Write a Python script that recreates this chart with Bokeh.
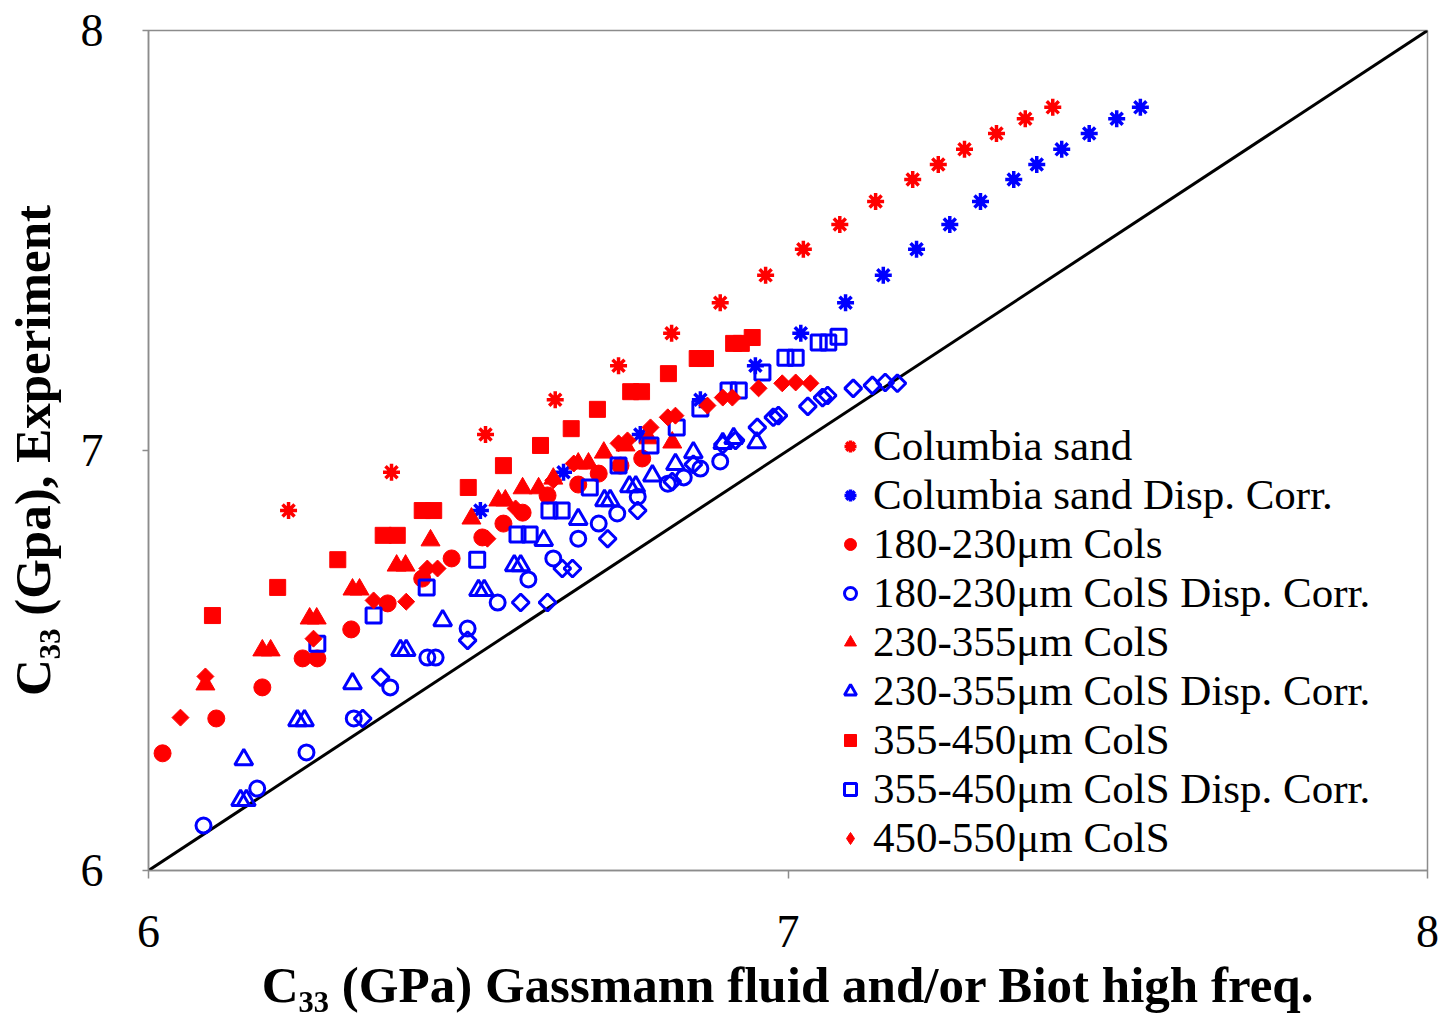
from bokeh.plotting import figure
from bokeh.models import Legend, LegendItem, Range1d, FixedTicker
from bokeh.embed import file_html
from bokeh.resources import INLINE
import math

# ---------------- data (GPa) ----------------
cs_x = [6.219, 6.380, 6.527, 6.636, 6.735, 6.818, 6.894, 6.965, 7.024, 7.081, 7.137, 7.195, 7.235, 7.276, 7.326, 7.371, 7.414]
cs_y = [6.857, 6.948, 7.038, 7.121, 7.202, 7.279, 7.352, 7.417, 7.479, 7.538, 7.593, 7.645, 7.681, 7.717, 7.755, 7.790, 7.817]
csd_x = [6.519, 6.649, 6.769, 6.863, 6.949, 7.020, 7.090, 7.149, 7.201, 7.253, 7.301, 7.353, 7.389, 7.428, 7.471, 7.514, 7.551]
csd_y = [6.857, 6.948, 7.038, 7.121, 7.202, 7.279, 7.352, 7.417, 7.479, 7.538, 7.593, 7.645, 7.681, 7.717, 7.755, 7.790, 7.817]

c180_x = [6.022, 6.106, 6.178, 6.241, 6.264, 6.317, 6.374, 6.428, 6.474, 6.522, 6.555, 6.585, 6.624, 6.672, 6.704, 6.738, 6.772]
c180_y = [6.279, 6.362, 6.436, 6.505, 6.505, 6.574, 6.636, 6.695, 6.743, 6.793, 6.826, 6.852, 6.893, 6.919, 6.945, 6.964, 6.981]
c180d_x = [6.086, 6.170, 6.247, 6.321, 6.378, 6.436, 6.449, 6.499, 6.546, 6.594, 6.633, 6.672, 6.704, 6.733, 6.765, 6.812, 6.837, 6.863, 6.894]
c180d_y = [6.107, 6.195, 6.281, 6.362, 6.436, 6.507, 6.507, 6.576, 6.638, 6.693, 6.743, 6.790, 6.826, 6.850, 6.890, 6.921, 6.936, 6.957, 6.974]

c230_x = [6.089, 6.178, 6.191, 6.252, 6.263, 6.319, 6.330, 6.388, 6.402, 6.441, 6.505, 6.547, 6.558, 6.585, 6.610, 6.633, 6.672, 6.688, 6.712, 6.746, 6.782, 6.819]
c230_y = [6.443, 6.524, 6.524, 6.600, 6.600, 6.669, 6.669, 6.726, 6.726, 6.786, 6.838, 6.881, 6.881, 6.910, 6.910, 6.933, 6.969, 6.969, 6.995, 7.012, 7.029, 7.019]
c230d_x = [6.149, 6.144, 6.153, 6.233, 6.244, 6.319, 6.394, 6.403, 6.460, 6.516, 6.525, 6.572, 6.582, 6.618, 6.672, 6.713, 6.722, 6.752, 6.762, 6.788, 6.824, 6.852, 6.898, 6.915, 6.951]
c230d_y = [6.264, 6.167, 6.167, 6.357, 6.357, 6.445, 6.524, 6.524, 6.595, 6.667, 6.667, 6.726, 6.726, 6.786, 6.836, 6.881, 6.881, 6.914, 6.914, 6.940, 6.967, 6.995, 7.017, 7.029, 7.019]

c355_x = [6.100, 6.202, 6.296, 6.367, 6.389, 6.428, 6.446, 6.500, 6.555, 6.613, 6.661, 6.702, 6.754, 6.771, 6.813, 6.858, 6.871, 6.915, 6.927, 6.944]
c355_y = [6.607, 6.674, 6.740, 6.798, 6.798, 6.857, 6.857, 6.912, 6.964, 7.012, 7.052, 7.098, 7.140, 7.140, 7.183, 7.219, 7.219, 7.255, 7.255, 7.269]
c355d_x = [6.264, 6.352, 6.435, 6.514, 6.577, 6.596, 6.627, 6.646, 6.690, 6.735, 6.785, 6.826, 6.863, 6.907, 6.923, 6.960, 6.996, 7.012, 7.048, 7.063, 7.079]
c355d_y = [6.540, 6.607, 6.674, 6.740, 6.800, 6.800, 6.857, 6.857, 6.912, 6.964, 7.012, 7.055, 7.100, 7.143, 7.143, 7.186, 7.221, 7.221, 7.257, 7.257, 7.271]

c450_x = [6.050, 6.089, 6.258, 6.352, 6.403, 6.436, 6.452, 6.530, 6.574, 6.633, 6.665, 6.735, 6.749, 6.785, 6.812, 6.824, 6.874, 6.898, 6.913, 6.954, 6.991, 7.012, 7.035]
c450_y = [6.364, 6.462, 6.552, 6.643, 6.640, 6.719, 6.719, 6.790, 6.862, 6.929, 6.969, 7.017, 7.024, 7.055, 7.079, 7.083, 7.107, 7.126, 7.126, 7.148, 7.160, 7.162, 7.160]
c450d_x = [6.335, 6.363, 6.499, 6.582, 6.624, 6.647, 6.663, 6.718, 6.765, 6.819, 6.852, 6.898, 6.918, 6.952, 6.977, 6.985, 7.031, 7.054, 7.062, 7.102, 7.132, 7.152, 7.171]
c450d_y = [6.362, 6.460, 6.548, 6.638, 6.638, 6.719, 6.719, 6.790, 6.857, 6.926, 6.967, 7.014, 7.024, 7.055, 7.079, 7.083, 7.105, 7.126, 7.131, 7.148, 7.155, 7.162, 7.160]

diag_x = [6, 8]
diag_y = [6, 8]

labels = ["Columbia sand", "Columbia sand Disp. Corr.", "180-230\u03bcm Cols",
          "180-230\u03bcm ColS Disp. Corr.", "230-355\u03bcm ColS",
          "230-355\u03bcm ColS Disp. Corr.", "355-450\u03bcm ColS",
          "355-450\u03bcm ColS Disp. Corr.", "450-550\u03bcm ColS"]
ticks = [6, 7, 8]

RED = "#FF0000"
BLUE = "#0000FF"
GRAY = "#8c8c8c"
FONT = "Liberation Serif"

p = figure(frame_width=1279, frame_height=840, x_range=Range1d(6, 8), y_range=Range1d(6, 8),
           output_backend="svg", toolbar_location=None,
           min_border_left=148, min_border_right=22, min_border_top=30, min_border_bottom=146)

p.xgrid.visible = False
p.ygrid.visible = False
p.outline_line_color = GRAY
p.outline_line_width = 1.5
p.background_fill_color = "white"

for ax in (p.xaxis[0], p.yaxis[0]):
    ax.ticker = FixedTicker(ticks=ticks)
    ax.axis_line_color = GRAY
    ax.axis_line_width = 1.5
    ax.major_tick_line_color = GRAY
    ax.major_tick_line_width = 1.5
    ax.major_tick_in = 0
    ax.minor_tick_out = 0
    ax.minor_tick_in = 0
    ax.major_label_text_font = FONT
    ax.major_label_text_font_size = "46px"
    ax.major_label_text_color = "black"
    ax.axis_label_text_font = FONT
    ax.axis_label_text_font_style = "bold"
    ax.axis_label_text_font_size = "51px"
    ax.axis_label_text_color = "black"

p.xaxis.major_tick_out = 8
p.yaxis.major_tick_out = 6
p.xaxis.major_label_standoff = 37
p.yaxis.major_label_standoff = 39
p.xaxis.axis_label_standoff = 7
p.yaxis.axis_label_standoff = 17
p.xaxis.axis_label = "C\u2083\u2083 (GPa) Gassmann fluid and/or Biot high freq."
p.yaxis.axis_label = "C\u2083\u2083 (Gpa), Experiment"

p.line(diag_x, diag_y, line_color="black", line_width=3)

r1 = p.scatter(cs_x, cs_y, marker="asterisk", size=17, line_color=RED, line_width=3.5)
r2 = p.scatter(csd_x, csd_y, marker="asterisk", size=17, line_color=BLUE, line_width=3.5)
r3 = p.scatter(c180_x, c180_y, marker="circle", size=17, fill_color=RED, line_color=RED, line_width=1)
r4 = p.scatter(c180d_x, c180d_y, marker="circle", size=15, fill_color=None, line_color=BLUE, line_width=3)
r5 = p.scatter(c230_x, c230_y, marker="triangle", size=19, fill_color=RED, line_color=RED, line_width=1)
r6 = p.scatter(c230d_x, c230d_y, marker="triangle", size=18, fill_color=None, line_color=BLUE, line_width=3)
r7 = p.scatter(c355_x, c355_y, marker="square", size=16, fill_color=RED, line_color=RED, line_width=1)
r8 = p.scatter(c355d_x, c355d_y, marker="square", size=15, fill_color=None, line_color=BLUE, line_width=3)
# legend proxy for the diamond series (legend glyphs ignore marker angle);
# drawn small, entirely hidden underneath the rotated squares below
r9_leg = p.scatter(c450_x, c450_y, marker="diamond", size=8, fill_color=RED, line_color=RED, line_width=1)
r9 = p.scatter(c450_x, c450_y, marker="square", angle=math.pi / 4, size=12, fill_color=RED, line_color=RED, line_width=1)
r10 = p.scatter(c450d_x, c450d_y, marker="square", angle=math.pi / 4, size=12, fill_color=None, line_color=BLUE, line_width=3)

items = [LegendItem(label=l, renderers=[r]) for l, r in
         zip(labels, [r1, r2, r3, r4, r5, r6, r7, r8, r9_leg])]
legend = Legend(items=items, location=(687, 8), padding=0, spacing=0, margin=0,
                glyph_width=30, glyph_height=46, label_height=46, label_standoff=8,
                border_line_color=None, background_fill_alpha=0,
                label_text_font=FONT, label_text_font_size="43px", label_text_color="black")
p.add_layout(legend)

open("out.html", "w").write(file_html(p, INLINE))
